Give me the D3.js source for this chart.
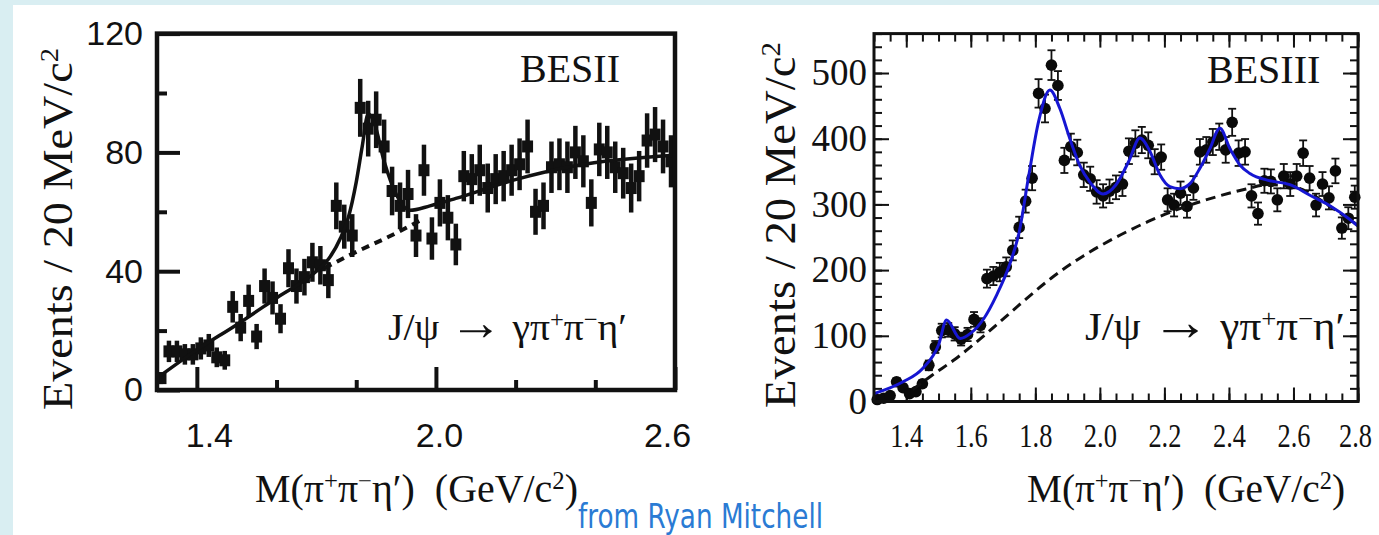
<!DOCTYPE html>
<html lang="en">
<head>
    <meta charset="utf-8" />
    <script src="https://d3js.org/d3.v7.min.js"></script>
    <style>
        html, body { margin: 0; padding: 0; background: #d9eef2; }
        svg { display: block; }
        text { white-space: pre; }
    </style>
</head>
<body>
<svg id="chart" width="1379" height="535"></svg>
<script>
    /********************************
     * ------------------------------
     * -- DONNEES -
     * ------------------------------
     *******************************/
    // BESII : masse (GeV/c2) et evenements / 20 MeV
    var besiiMasse = [1.31, 1.33, 1.35, 1.37, 1.39, 1.41, 1.43, 1.45, 1.47, 1.49,
        1.51, 1.53, 1.55, 1.57, 1.59, 1.61, 1.63, 1.65, 1.67, 1.69,
        1.71, 1.73, 1.75, 1.77, 1.79, 1.81, 1.83, 1.85, 1.87, 1.89,
        1.91, 1.93, 1.95, 1.97, 1.99, 2.01, 2.03, 2.05, 2.07, 2.09,
        2.11, 2.13, 2.15, 2.17, 2.19, 2.21, 2.23, 2.25, 2.27, 2.29,
        2.31, 2.33, 2.35, 2.37, 2.39, 2.41, 2.43, 2.45, 2.47, 2.49,
        2.51, 2.53, 2.55, 2.57, 2.59];
    var besiiEvents = [4, 13, 13, 12, 12, 14, 15, 11, 10, 28,
        21, 30, 18, 35, 31, 24, 41, 35, 38, 43,
        42, 37, 62, 55, 52, 95, 88, 91, 82, 67,
        62, 66, 52, 74, 51, 63, 58, 49, 72, 71,
        74, 68, 71, 72, 74, 76, 82, 60, 62, 75,
        76, 75, 80, 77, 63, 81, 80, 75, 73, 68,
        72, 84, 86, 82, 77];
    var besiiFitX = [1.30, 1.40, 1.50, 1.60, 1.70, 1.73, 1.76, 1.78, 1.80, 1.815, 1.83, 1.845,
        1.87, 1.90, 1.935, 1.985, 2.05, 2.19, 2.35, 2.60];
    var besiiFitY = [4, 13.5, 22, 31, 40, 44, 51, 58, 70, 82, 93, 90,
        77, 66, 60.5, 62, 64.5, 70.5, 75.5, 79];
    var besiiBkgX = [1.72, 1.80, 1.88, 1.96];
    var besiiBkgY = [41, 46.5, 51.5, 57];

    // BESIII
    var besiiiMasse = [1.31, 1.33, 1.35, 1.37, 1.39, 1.41, 1.43, 1.45, 1.47, 1.49,
        1.51, 1.53, 1.55, 1.57, 1.59, 1.61, 1.63, 1.65, 1.67, 1.69,
        1.71, 1.73, 1.75, 1.77, 1.79, 1.81, 1.83, 1.85, 1.87, 1.89,
        1.91, 1.93, 1.95, 1.97, 1.99, 2.01, 2.03, 2.05, 2.07, 2.09,
        2.11, 2.13, 2.15, 2.17, 2.19, 2.21, 2.23, 2.25, 2.27, 2.29,
        2.31, 2.33, 2.35, 2.37, 2.39, 2.41, 2.43, 2.45, 2.47, 2.49,
        2.51, 2.53, 2.55, 2.57, 2.59, 2.61, 2.63, 2.65, 2.67, 2.69,
        2.71, 2.73, 2.75, 2.77, 2.79];
    var besiiiEvents = [3, 5, 9, 30, 21, 12, 15, 27, 55, 83,
        108, 109, 103, 95, 102, 125, 116, 187, 191, 197,
        205, 230, 265, 305, 340, 469, 446, 512, 481, 367,
        388, 379, 345, 339, 319, 313, 320, 326, 331, 381,
        393, 398, 390, 365, 372, 307, 299, 317, 297, 325,
        380, 383, 395, 403, 383, 425, 378, 380, 313, 286,
        336, 335, 307, 343, 331, 343, 378, 340, 299, 331,
        310, 351, 264, 279, 311];
    var besiiiFitX = [1.30, 1.39, 1.45, 1.50, 1.525, 1.567, 1.60, 1.64, 1.68, 1.72, 1.75, 1.78,
        1.81, 1.845, 1.876, 1.907, 1.938, 1.969, 2.01, 2.05, 2.09, 2.124, 2.155, 2.186,
        2.217, 2.248, 2.28, 2.31, 2.341, 2.372, 2.403, 2.434, 2.465, 2.527, 2.589, 2.651,
        2.713, 2.775, 2.80];
    var besiiiFitY = [12, 30, 50, 86, 124, 96, 104, 126, 162, 208, 258, 345,
        426, 474, 446, 400, 359, 334, 316, 330, 366, 401, 381, 345,
        327, 324, 332, 355, 385, 416, 385, 360, 347, 336, 330, 314,
        298, 277, 267];
    var besiiiBkgX = [1.42, 1.48, 1.55, 1.65, 1.75, 1.85, 1.95, 2.05, 2.15, 2.25, 2.35, 2.45,
        2.52, 2.58, 2.64, 2.71, 2.80];
    var besiiiBkgY = [18, 40, 64, 104, 147, 188, 222, 250, 274, 294, 310, 323,
        330, 329, 320, 298, 268];

    // graduations
    var besiiTicksX = [1.4, 2.0, 2.6];
    var besiiMinorX = [1.6, 1.8, 2.2, 2.4];
    var besiiTicksY = [0, 40, 80, 120];
    var besiiMinorY = [20, 60, 100];
    var besiiiTicksX = [1.4, 1.6, 1.8, 2.0, 2.2, 2.4, 2.6, 2.8];
    var besiiiTicksY = [0, 100, 200, 300, 400, 500];

    var serif = "'Liberation Serif', 'Times New Roman', serif";
    var sans = "'Liberation Sans', Arial, sans-serif";

    var svg = d3.select("#chart");
    svg.append("rect").attr("width", 1379).attr("height", 535).attr("fill", "#d9eef2");
    svg.append("rect").attr("x", 13).attr("y", 5).attr("width", 1366).attr("height", 530).attr("fill", "#ffffff");

    // texte avec exposants : parts = [[texte, "sup" | "big"?], ...]
    function texteRiche(g, parts) {
        var t = g.append("text");
        parts.forEach(function (p) {
            var s = t.append("tspan").text(p[0]);
            if (p[1] === "sup") s.attr("baseline-shift", "super").attr("font-size", "62%");
            if (p[1] === "big") s.attr("font-size", "135%");
        });
        return t;
    }

    function nettoyerAxe(g, w) {
        g.select(".domain").remove();
        g.selectAll("line").attr("stroke", "#111").attr("stroke-width", w);
    }

    var titreY = [["Events / 20 MeV/c"], ["2", "sup"]];
    var titreX = [["M(\u03c0"], ["+", "sup"], ["\u03c0"], ["\u2212", "sup"], ["\u03b7\u2032)  (GeV/c"], ["2", "sup"], [")"]];
    var reaction = [["J/\u03c8 "], ["\u2192", "big"], [" \u03b3\u03c0"], ["+", "sup"], ["\u03c0"], ["\u2212", "sup"], ["\u03b7\u2032"]];

    /********************************
     * ------------------------------
     * -- BESII (gauche) ------------
     * ------------------------------
     *******************************/
    var xL = d3.scaleLinear().domain([1.3, 2.6]).range([157, 675]);
    var yL = d3.scaleLinear().domain([0, 120]).range([390, 33.6]);
    var gL = svg.append("g");

    gL.append("g").attr("transform", "translate(0,390)")
        .call(d3.axisBottom(xL).tickValues(besiiMinorX).tickSize(-10).tickFormat(""))
        .call(nettoyerAxe, 4);
    var axeXL = gL.append("g").attr("transform", "translate(0,390)")
        .call(d3.axisBottom(xL).tickValues(besiiTicksX).tickSize(-23).tickPadding(33).tickFormat(d3.format(".1f")))
        .call(nettoyerAxe, 4);
    axeXL.selectAll("text").attr("font-family", sans).attr("font-size", 34).attr("fill", "#111")
        .attr("dx", (d, i) => [12, 3, -8][i]);
    gL.append("g").attr("transform", "translate(157,0)")
        .call(d3.axisLeft(yL).tickValues(besiiMinorY).tickSize(-10).tickFormat(""))
        .call(nettoyerAxe, 4);
    gL.append("g").attr("transform", "translate(157,0)")
        .call(d3.axisLeft(yL).tickValues(besiiTicksY).tickSize(-23).tickPadding(14))
        .call(nettoyerAxe, 4)
        .selectAll("text").attr("font-family", sans).attr("font-size", 34).attr("fill", "#111");

    // points + barres d'erreur
    var ptsL = besiiMasse.map(function (m, i) { return [m, besiiEvents[i]]; });
    gL.append("g").selectAll("line").data(ptsL).enter().append("line")
        .attr("x1", d => xL(d[0])).attr("x2", d => xL(d[0]))
        .attr("y1", d => yL(Math.max(0, d[1] - Math.sqrt(d[1]))))
        .attr("y2", d => yL(d[1] + Math.sqrt(d[1])))
        .attr("stroke", "#111").attr("stroke-width", 4.5);
    gL.append("g").selectAll("rect").data(ptsL).enter().append("rect")
        .attr("x", d => xL(d[0]) - 5.5).attr("y", d => yL(d[1]) - 6)
        .attr("width", 11).attr("height", 12).attr("fill", "#111");

    var ligneL = d3.line().x(d => xL(d[0])).y(d => yL(d[1])).curve(d3.curveMonotoneX);
    gL.append("path").datum(besiiBkgX.map((m, i) => [m, besiiBkgY[i]]))
        .attr("d", ligneL).attr("fill", "none").attr("stroke", "#111")
        .attr("stroke-width", 4).attr("stroke-dasharray", "8,6");
    gL.append("path").datum(besiiFitX.map((m, i) => [m, besiiFitY[i]]))
        .attr("d", ligneL).attr("fill", "none").attr("stroke", "#111").attr("stroke-width", 3.5);

    gL.append("rect").attr("x", 157).attr("y", 33.6).attr("width", 518).attr("height", 356.4)
        .attr("fill", "none").attr("stroke", "#111").attr("stroke-width", 4.5);

    gL.append("text").attr("x", 520).attr("y", 82).attr("font-family", serif).attr("font-size", 40)
        .attr("fill", "#111").text("BESII");
    texteRiche(gL, reaction).attr("x", 388).attr("y", 340).attr("font-family", serif)
        .attr("font-size", 38).attr("fill", "#111").attr("textLength", 239).attr("lengthAdjust", "spacingAndGlyphs");
    texteRiche(gL, titreY).attr("transform", "translate(72,229) rotate(-90)").attr("text-anchor", "middle")
        .attr("font-family", serif).attr("font-size", 42).attr("fill", "#111")
        .attr("textLength", 362).attr("lengthAdjust", "spacingAndGlyphs");
    texteRiche(gL, titreX).attr("x", 255).attr("y", 502).attr("font-family", serif)
        .attr("font-size", 39).attr("fill", "#111").attr("textLength", 323).attr("lengthAdjust", "spacingAndGlyphs");

    /********************************
     * ------------------------------
     * -- BESIII (droite) -----------
     * ------------------------------
     *******************************/
    var xR = d3.scaleLinear().domain([1.3, 2.8]).range([874, 1358]);
    var yR = d3.scaleLinear().domain([0, 560]).range([401.5, 33.6]);
    var gR = svg.append("g");
    var minorX = d3.range(1.3, 2.801, 0.05);
    var minorY = d3.range(0, 561, 20);

    // quatre cotes, graduations vers l'interieur
    gR.append("g").attr("transform", "translate(0,401.5)")
        .call(d3.axisBottom(xR).tickValues(minorX).tickSize(-8).tickFormat("")).call(nettoyerAxe, 2);
    gR.append("g").attr("transform", "translate(0,401.5)")
        .call(d3.axisBottom(xR).tickValues(besiiiTicksX).tickSize(-14).tickPadding(22).tickFormat(d3.format(".1f")))
        .call(nettoyerAxe, 2)
        .selectAll("text").attr("font-family", serif).attr("font-size", 33).attr("fill", "#111")
        .attr("textLength", 33).attr("lengthAdjust", "spacingAndGlyphs")
        .attr("dx", (d, i) => i === besiiiTicksX.length - 1 ? -3 : 0);
    gR.append("g").attr("transform", "translate(0,33.6)")
        .call(d3.axisTop(xR).tickValues(minorX).tickSize(-8).tickFormat("")).call(nettoyerAxe, 2);
    gR.append("g").attr("transform", "translate(0,33.6)")
        .call(d3.axisTop(xR).tickValues(besiiiTicksX).tickSize(-14).tickFormat("")).call(nettoyerAxe, 2);
    gR.append("g").attr("transform", "translate(874,0)")
        .call(d3.axisLeft(yR).tickValues(minorY).tickSize(-8).tickFormat("")).call(nettoyerAxe, 2);
    gR.append("g").attr("transform", "translate(874,0)")
        .call(d3.axisLeft(yR).tickValues(besiiiTicksY).tickSize(-15).tickPadding(7))
        .call(nettoyerAxe, 2)
        .selectAll("text").attr("font-family", serif).attr("font-size", 37).attr("fill", "#111");
    gR.append("g").attr("transform", "translate(1358,0)")
        .call(d3.axisRight(yR).tickValues(minorY).tickSize(-8).tickFormat("")).call(nettoyerAxe, 2);
    gR.append("g").attr("transform", "translate(1358,0)")
        .call(d3.axisRight(yR).tickValues(besiiiTicksY).tickSize(-15).tickFormat("")).call(nettoyerAxe, 2);

    var ptsR = besiiiMasse.map(function (m, i) { return [m, besiiiEvents[i]]; });
    var erreurs = gR.append("g").attr("stroke", "#111").attr("stroke-width", 1.8);
    erreurs.selectAll(".err").data(ptsR).enter().append("line")
        .attr("x1", d => xR(d[0])).attr("x2", d => xR(d[0]))
        .attr("y1", d => yR(Math.max(0, d[1] - Math.sqrt(d[1]))))
        .attr("y2", d => yR(d[1] + Math.sqrt(d[1])));
    erreurs.selectAll(".capH").data(ptsR).enter().append("line")
        .attr("x1", d => xR(d[0]) - 4).attr("x2", d => xR(d[0]) + 4)
        .attr("y1", d => yR(d[1] + Math.sqrt(d[1]))).attr("y2", d => yR(d[1] + Math.sqrt(d[1])));
    erreurs.selectAll(".capB").data(ptsR).enter().append("line")
        .attr("x1", d => xR(d[0]) - 4).attr("x2", d => xR(d[0]) + 4)
        .attr("y1", d => yR(Math.max(0, d[1] - Math.sqrt(d[1])))).attr("y2", d => yR(Math.max(0, d[1] - Math.sqrt(d[1]))));
    gR.append("g").selectAll("circle").data(ptsR).enter().append("circle")
        .attr("cx", d => xR(d[0])).attr("cy", d => yR(d[1])).attr("r", 5.8).attr("fill", "#0a0a0a");

    var ligneR = d3.line().x(d => xR(d[0])).y(d => yR(d[1])).curve(d3.curveMonotoneX);
    gR.append("path").datum(besiiiBkgX.map((m, i) => [m, besiiiBkgY[i]]))
        .attr("d", ligneR).attr("fill", "none").attr("stroke", "#111")
        .attr("stroke-width", 3).attr("stroke-dasharray", "10,6");
    gR.append("path").datum(besiiiFitX.map((m, i) => [m, besiiiFitY[i]]))
        .attr("d", ligneR).attr("fill", "none").attr("stroke", "#1616d2").attr("stroke-width", 3);

    gR.append("rect").attr("x", 874).attr("y", 33.6).attr("width", 484).attr("height", 367.9)
        .attr("fill", "none").attr("stroke", "#111").attr("stroke-width", 3);

    gR.append("text").attr("x", 1207).attr("y", 83).attr("font-family", serif).attr("font-size", 40)
        .attr("fill", "#111").text("BESIII");
    texteRiche(gR, reaction).attr("x", 1085).attr("y", 340).attr("font-family", serif)
        .attr("font-size", 40).attr("fill", "#111").attr("textLength", 260).attr("lengthAdjust", "spacingAndGlyphs");
    texteRiche(gR, titreY).attr("transform", "translate(795,225) rotate(-90)").attr("text-anchor", "middle")
        .attr("font-family", serif).attr("font-size", 44).attr("fill", "#111")
        .attr("textLength", 366).attr("lengthAdjust", "spacingAndGlyphs");
    texteRiche(gR, titreX).attr("x", 1027).attr("y", 502).attr("font-family", serif)
        .attr("font-size", 39).attr("fill", "#111").attr("textLength", 318).attr("lengthAdjust", "spacingAndGlyphs");

    // signature
    svg.append("text").attr("x", 578).attr("y", 528).attr("font-family", "'Comic Sans MS', 'DejaVu Sans', sans-serif")
        .attr("font-size", 34).attr("fill", "#2a7bd4").attr("textLength", 245)
        .attr("lengthAdjust", "spacingAndGlyphs").text("from Ryan Mitchell");
</script>
</body>
</html>
